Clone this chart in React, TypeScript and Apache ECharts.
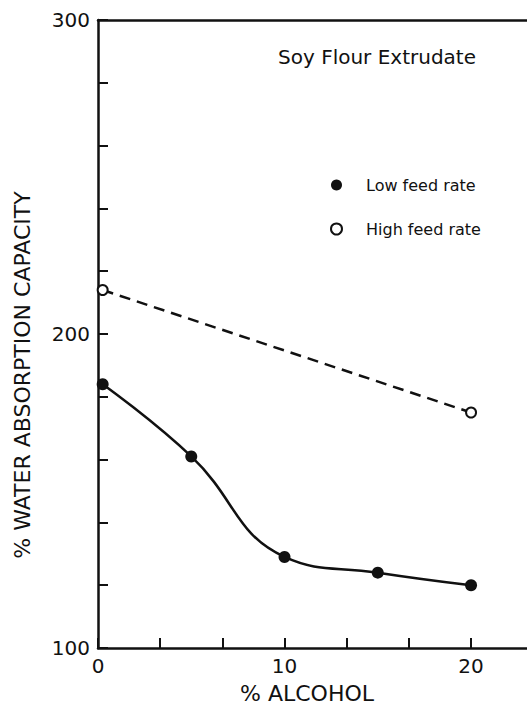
import React, { useEffect, useRef } from "react";
import * as echarts from "echarts";

const chartTitle = "Soy Flour Extrudate";
const xTitle = "% ALCOHOL";
const yTitle = "% WATER ABSORPTION CAPACITY";
const seriesNames = ["Low feed rate", "High feed rate"];
const lowFeed: [number, number][] = [
  [0.25, 184],
  [5, 161],
  [10, 129],
  [15, 124],
  [20, 120],
];
const highFeed: [number, number][] = [
  [0.25, 214],
  [20, 175],
];
const xLabelValues = [0, 10, 20];
const yLabelValues = [100, 200, 300];

const FONT = "DejaVu Sans";

export default function App() {
  const ref = useRef<HTMLDivElement>(null);
  useEffect(() => {
    if (!ref.current) return;
    const chart = echarts.init(ref.current, null, { renderer: "svg" });
    const near = (v: number, list: number[]) => list.some((t) => Math.abs(v - t) < 0.01);
    chart.setOption({
      animation: false,
      backgroundColor: "#ffffff",
      title: {
        text: chartTitle,
        left: 273,
        top: 42,
        textStyle: { fontFamily: FONT, fontSize: 20, fontWeight: "normal", color: "#111" },
      },
      legend: {
        orient: "vertical",
        left: 325,
        top: 172,
        itemWidth: 11,
        itemHeight: 11,
        itemGap: 28,
        textStyle: { fontFamily: FONT, fontSize: 16, color: "#111", padding: [0, 0, 0, 19] },
        data: [
          { name: seriesNames[0], icon: "circle", itemStyle: { color: "#111" } },
          {
            name: seriesNames[1],
            icon: "emptyCircle",
            itemStyle: { color: "#111", borderColor: "#111", borderWidth: 2 },
          },
        ],
      },
      grid: { left: 98, top: 20, right: 0, bottom: 57 },
      xAxis: [
        {
          type: "value",
          min: 0,
          max: 23,
          interval: 10 / 3,
          position: "bottom",
          splitLine: { show: false },
          axisLine: { lineStyle: { color: "#111", width: 2.5 } },
          axisTick: { inside: true, length: 10, lineStyle: { color: "#111", width: 2 } },
          axisLabel: {
            showMaxLabel: false,
            fontFamily: FONT,
            fontSize: 20,
            color: "#111",
            margin: 8,
            formatter: (v: number) => (near(v, xLabelValues) ? String(Math.round(v)) : ""),
          },
        },
        {
          type: "value",
          min: 0,
          max: 23,
          position: "top",
          splitLine: { show: false },
          axisLine: { show: true, lineStyle: { color: "#111", width: 2.5 } },
          axisTick: { show: false },
          axisLabel: { show: false },
        },
      ],
      yAxis: {
        type: "value",
        min: 100,
        max: 300,
        interval: 20,
        splitLine: { show: false },
        axisLine: { show: true, lineStyle: { color: "#111", width: 2.5 } },
        axisTick: { inside: true, length: 10, lineStyle: { color: "#111", width: 2 } },
        axisLabel: {
          fontFamily: FONT,
          fontSize: 20,
          color: "#111",
          margin: 8,
          formatter: (v: number) => (near(v, yLabelValues) ? String(v) : ""),
        },
      },
      graphic: [
        {
          type: "text",
          x: 22,
          y: 375,
          rotation: Math.PI / 2,
          style: {
            text: yTitle,
            fontFamily: FONT,
            fontSize: 22,
            fill: "#111",
            textAlign: "center",
            textVerticalAlign: "middle",
          },
        },
        {
          type: "text",
          x: 307,
          y: 693,
          style: {
            text: xTitle,
            fontFamily: FONT,
            fontSize: 22,
            fill: "#111",
            textAlign: "center",
            textVerticalAlign: "middle",
          },
        },
      ],
      series: [
        {
          name: seriesNames[0],
          type: "line",
          data: lowFeed,
          smooth: 0.45,
          symbol: "circle",
          symbolSize: 12,
          itemStyle: { color: "#111" },
          lineStyle: { color: "#111", width: 2.5 },
        },
        {
          name: seriesNames[1],
          type: "line",
          data: highFeed,
          symbol: "emptyCircle",
          symbolSize: 10,
          itemStyle: { color: "#111", borderColor: "#111", borderWidth: 2 },
          lineStyle: { color: "#111", width: 2.5, type: [11, 7] },
        },
      ],
    });
    return () => chart.dispose();
  }, []);
  return (
    <div
      ref={ref}
      style={{ position: "fixed", left: 0, top: 0, width: 527, height: 705, background: "#fff" }}
    />
  );
}
